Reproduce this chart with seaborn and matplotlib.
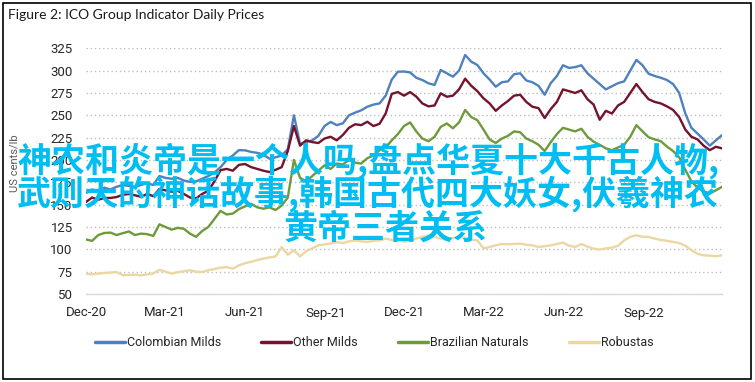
import matplotlib
matplotlib.use("Agg")
import matplotlib.pyplot as plt
import matplotlib.lines as mlines
from matplotlib.patches import Rectangle
import seaborn as sns
import pandas as pd

# ---------------- data (weekly readings, US cents/lb) ----------------
start_date = "2020-12-01"
n_weeks = 105

colombian_milds = [
    163, 167, 165, 169, 167, 170, 172, 171, 170, 172, 174, 172, 182, 180, 179, 180,
    177, 175.5, 176, 179, 182, 186, 192, 199.8, 205, 211, 210.8, 209, 208, 206,
    201.4, 203, 205, 212, 250, 218, 220, 222, 227, 238, 242.6, 239, 241, 250, 253,
    255.6, 259.6, 262, 263.3, 272, 290, 298.8, 299, 298, 292, 289.5, 285.8, 284,
    300.7, 297, 293.2, 300, 317.5, 310, 306.3, 297, 290, 282, 287, 288, 296, 297,
    289, 287, 283, 273, 286, 294, 306, 303, 304, 306, 297, 291, 285, 279, 282.5,
    286, 288, 300, 312, 306, 296.5, 294, 292, 289.5, 285, 275, 252, 236, 229.5,
    223, 216, 222, 227.8,
]
other_milds = [
    153, 158, 155.5, 157.5, 157.5, 158.5, 161, 162, 160.5, 158.7, 162, 159.5, 167.5,
    166, 164.5, 165.5, 162, 158, 157, 162, 165.5, 176, 188.6, 190, 188, 194.5, 195.5,
    192, 190, 188, 186.5, 189, 192, 210, 238, 216, 222, 220, 219, 224, 226, 222, 228,
    236, 240, 239, 242.8, 238, 240.5, 252, 274, 276, 272, 276, 271, 263.3, 260, 261,
    274.6, 270.8, 272, 279, 291, 283, 277, 269, 263.3, 255, 261, 266, 272, 273, 265,
    259.6, 258, 247, 257, 265, 279, 277, 275, 278, 268, 262, 245, 255, 252, 261, 265,
    275, 285, 276, 268, 265, 263.3, 260, 256, 248, 234, 226, 223, 216, 211, 214.8, 213,
]
brazilian_naturals = [
    111, 109.5, 116, 118.3, 118.7, 116, 118, 120, 116, 117.6, 117, 115, 128, 125, 122,
    124, 123, 117.6, 114, 120.5, 125, 134, 143, 139, 140, 145, 148, 151, 147, 145.5,
    147, 144, 149, 158, 200, 180, 176, 182, 188, 194, 190, 196, 195, 200, 197, 196,
    202, 205, 211, 214, 222, 229, 238, 242, 232, 224, 221, 226, 237, 240.9, 235.5, 242,
    256, 248, 244.5, 234, 223, 219, 224, 227, 232, 231, 224, 221, 217, 210, 220, 229,
    236, 234, 232, 235, 226, 220.5, 217, 213, 211, 214, 217, 226, 239, 232, 225.5, 223,
    221, 215, 210, 203, 189, 176, 169, 165, 162.5, 166, 170,
]
robustas = [
    72.8, 72, 72.8, 73.5, 74, 74.6, 71, 71.5, 71.6, 70.9, 72, 73, 77, 75, 72.8, 74.5,
    75.5, 76.5, 75, 74.6, 76.5, 78, 79.5, 80, 78.4, 82, 84.5, 86, 88, 89.6, 91, 92,
    102.6, 94, 99, 92, 98, 101, 104.5, 105.5, 106.4, 108, 107, 109, 110, 109, 108.3,
    109.5, 110, 112, 110.5, 111.5, 108.5, 110, 112, 114, 115.5, 114, 112, 110.9, 112.5,
    114, 113, 111, 110, 101, 102.6, 104.5, 106, 105.6, 106, 106.4, 105, 104.5, 102.6,
    103.5, 104.5, 106, 107.5, 104, 102.6, 106, 103, 100.8, 99.7, 101, 101.9, 104, 110,
    114, 115.7, 114, 113.9, 112, 110.5, 109.5, 108.3, 107, 104, 99, 95, 93.3, 93, 92.2,
    93.3,
]

series_names = ["Colombian Milds", "Other Milds", "Brazilian Naturals", "Robustas"]
series_colors = ["#4F81BD", "#74132B", "#6F9A3C", "#EAD7A1"]

xtick_dates = ["2020-12-01", "2021-03-01", "2021-06-01", "2021-09-01",
               "2021-12-01", "2022-03-01", "2022-06-01", "2022-09-01"]
xtick_labels = ["Dec-20", "Mar-21", "Jun-21", "Sep-21",
                "Dec-21", "Mar-22", "Jun-22", "Sep-22"]
ytick_values = [50, 75, 100, 125, 150, 175, 200, 225, 250, 275, 300, 325]

title_text = "Figure 2: ICO Group Indicator Daily Prices"
ylabel_text = "US cents/lb"
overlay_lines = ["神农和炎帝是一个人吗,盘点华夏十大千古人物,",
                 "武则天的神话故事,韩国古代四大妖女,伏羲神农",
                 "黄帝三者关系"]

# ---------------- build frame ----------------
dates = pd.date_range(start_date, periods=n_weeks, freq="7D")
wide = pd.DataFrame({
    "date": dates,
    series_names[0]: colombian_milds,
    series_names[1]: other_milds,
    series_names[2]: brazilian_naturals,
    series_names[3]: robustas,
})
df = wide.melt(id_vars="date", var_name="series", value_name="price")

# ---------------- style ----------------
sns.set_theme(style="white")
plt.rcParams["font.family"] = ["Roboto", "DejaVu Sans"]

W, H = 755, 382
fig = plt.figure(figsize=(W / 100, H / 100), dpi=100)
fig.patch.set_facecolor("white")

ax = fig.add_axes([86 / W, 1 - 294 / H, (722 - 86) / W, (294 - 48.3) / H])
sns.lineplot(data=df, x="date", y="price", hue="series", hue_order=series_names,
             palette=series_colors, linewidth=1.7, ax=ax, legend=False)

ax.set_xlim(dates[0], dates[-1])
ax.set_ylim(50, 325)
ax.set_yticks(ytick_values)
ax.set_xticks(pd.to_datetime(xtick_dates))
ax.set_xticklabels(xtick_labels)
ax.set_xlabel("")
ax.set_ylabel("")
ax.tick_params(axis="both", length=0, labelsize=9.5, colors="#262626")
ax.tick_params(axis="x", pad=9)
ax.tick_params(axis="y", pad=9.5)

for side in ["top", "right", "left"]:
    ax.spines[side].set_visible(False)
ax.spines["bottom"].set_color("#D9D9D9")
ax.spines["bottom"].set_linewidth(1.0)
ax.yaxis.grid(True, linestyle=(0, (1, 2)), color="#BFBFBF", linewidth=1.0)
ax.xaxis.grid(False)
ax.set_axisbelow(True)

# title and axis label
fig.text(8 / W, 1 - 15 / H, title_text, fontsize=10, family=["Lato", "DejaVu Sans"],
         color="#1A1A1A", ha="left", va="center")
fig.text(15 / W, 1 - 163 / H, ylabel_text, fontsize=8, rotation=90,
         color="#595959", ha="center", va="center")

# legend
handles = [mlines.Line2D([], [], color=c, linewidth=2.5) for c in series_colors]
fig.legend(handles, series_names, loc="center", bbox_to_anchor=(374 / W, 1 - 343 / H),
           ncol=4, frameon=False, handlelength=2.4, handletextpad=0.18,
           columnspacing=3.2, fontsize=9, labelcolor="#262626")

# overlay text
cjk = ["Noto Sans CJK SC", "DejaVu Sans"]
for txt, x0, yc in zip(overlay_lines, [17, 17, 283], [161, 194, 228]):
    fig.text(x0 / W, 1 - yc / H, txt, fontsize=24.5, family=cjk,
             weight="bold", color="#00BDF2", ha="left", va="center", zorder=10)

# outer border
fig.patches.append(Rectangle((2.5 / W, 3 / H), (751 - 2.5) / W, (379 - 3) / H,
                             transform=fig.transFigure, fill=False,
                             edgecolor="black", linewidth=1.2, zorder=20))

fig.savefig("out.png", dpi=100, facecolor="white")
